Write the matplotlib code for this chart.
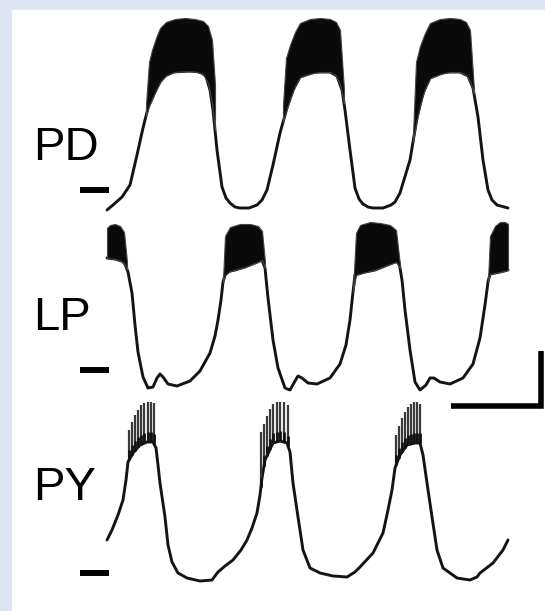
import numpy as np
import matplotlib
matplotlib.use("Agg")
import matplotlib.pyplot as plt
from matplotlib.patches import Rectangle

# Slow-wave membrane potential of each cell (time in ms, voltage in mV)
pd_t = [0, 60, 150, 230, 300, 360, 410, 480, 530, 580, 660, 830, 930, 990, 1030, 1060,
        1100, 1150, 1190, 1230, 1280, 1330, 1420, 1500, 1550, 1600, 1660, 1730, 1800,
        1860, 1930, 2080, 2230, 2300, 2350, 2380, 2430, 2480, 2520, 2560, 2610, 2660,
        2760, 2840, 2880, 2930, 3030, 3100, 3160, 3230, 3380, 3530, 3610, 3660, 3710,
        3760, 3810, 3850, 3900, 4010]
pd_v = [-64.0, -63.0, -61.4, -59.0, -53.0, -47.6, -43.6, -40.4, -38.4, -37.2, -36.4,
        -36.2, -36.4, -37.2, -40.0, -44.0, -52.0, -59.4, -61.6, -62.6, -63.4, -63.6,
        -63.6, -63.0, -62.0, -60.0, -55.0, -48.6, -43.6, -40.0, -37.4, -36.4, -36.4,
        -37.2, -40.0, -44.0, -52.0, -59.6, -61.8, -62.8, -63.4, -63.6, -63.6, -63.0,
        -62.4, -60.6, -54.0, -45.6, -40.6, -37.6, -36.4, -36.4, -37.2, -39.6, -45.4,
        -54.0, -60.0, -62.0, -63.0, -63.6]

lp_t = [0, 80, 150, 180, 210, 250, 280, 310, 360, 410, 460, 500, 530, 560, 610, 700,
        830, 930, 1030, 1080, 1110, 1140, 1160, 1190, 1280, 1380, 1480, 1550, 1580,
        1610, 1660, 1710, 1780, 1830, 1880, 1910, 1950, 2010, 2100, 2230, 2330, 2390,
        2430, 2460, 2480, 2580, 2680, 2780, 2880, 2920, 2950, 2980, 3030, 3080, 3130,
        3190, 3230, 3270, 3330, 3430, 3560, 3660, 3730, 3780, 3810, 3830, 3930, 4010]
lp_v = [-37.6, -37.8, -38.2, -38.8, -40.4, -44.6, -51.0, -56.4, -61.4, -63.6,
        -63.4, -61.6, -60.8, -61.4, -62.8, -63.2, -62.2, -60.2, -56.6, -53.2,
        -50.0, -46.0, -42.4, -40.4, -40.0, -39.4, -38.6, -38.0, -39.6, -45.6,
        -54.0, -59.6, -63.6, -64.0, -62.2, -61.2, -61.6, -62.6, -62.8, -61.6,
        -58.8, -55.0, -50.0, -44.4, -41.0, -40.4, -40.0, -39.2, -38.4, -38.4,
        -42.0, -48.0, -56.0, -62.4, -64.0, -63.0, -61.6, -61.6, -62.4, -62.8,
        -61.6, -58.8, -53.6, -47.0, -42.4, -40.8, -40.4, -40.0]

py_t = [0, 50, 110, 160, 190, 210, 260, 330, 400, 460, 490, 510, 530, 580, 610, 650,
        710, 800, 930, 1050, 1110, 1180, 1260, 1340, 1400, 1450, 1500, 1530, 1550,
        1580, 1660, 1730, 1800, 1830, 1860, 1910, 1960, 2030, 2130, 2260, 2400, 2480,
        2530, 2660, 2760, 2810, 2850, 2880, 2930, 3000, 3080, 3130, 3160, 3200, 3250,
        3300, 3360, 3500, 3630, 3700, 3730, 3860, 3960, 4010]
py_v = [-53.4, -51.4, -48.4, -45.4, -41.4, -37.8, -36.0, -34.4, -33.8, -33.8, -35.0,
        -38.4, -42.0, -48.8, -54.4, -57.8, -60.0, -61.0, -61.6, -61.4, -59.8, -58.6,
        -57.4, -55.4, -53.4, -51.0, -48.0, -44.4, -41.0, -37.4, -34.0, -33.6, -34.0,
        -35.8, -42.0, -48.8, -55.4, -59.0, -60.0, -60.6, -60.8, -59.8, -58.8, -56.0,
        -52.0, -47.4, -43.4, -39.0, -36.4, -34.4, -34.0, -34.0, -36.4, -42.0, -48.8,
        -55.4, -59.0, -61.0, -61.4, -60.8, -60.0, -58.0, -55.4, -53.4]

# Spike-peak envelope of each burst (PD and LP fire dense bursts)
pd_burst_t = [[390, 420, 450, 490, 530, 590, 680, 780, 880, 960, 1010, 1050, 1080],
              [1760, 1790, 1830, 1880, 1930, 2030, 2130, 2230, 2290, 2330, 2370],
              [3060, 3090, 3130, 3180, 3230, 3330, 3430, 3530, 3590, 3630, 3670]]
pd_burst_peak = [[-43.0, -34.4, -32.0, -29.6, -27.6, -26.4, -25.8, -25.6, -25.8, -26.2, -27.2, -30.0, -39.0],
                 [-43.0, -33.6, -31.0, -28.4, -26.6, -25.8, -25.6, -25.8, -26.4, -28.0, -40.0],
                 [-49.0, -34.4, -31.2, -28.6, -26.6, -25.8, -25.6, -25.8, -26.4, -28.0, -40.0]]

lp_burst_t = [[0, 30, 80, 130, 170, 200],
              [1160, 1180, 1230, 1330, 1430, 1510, 1550, 1580],
              [2460, 2490, 2530, 2630, 2730, 2830, 2890, 2930],
              [3810, 3830, 3880, 3930, 3980, 4010]]
lp_burst_peak = [[-31.6, -31.0, -30.8, -31.2, -32.4, -38.4],
                 [-42.0, -33.2, -31.4, -30.8, -30.8, -31.2, -32.2, -38.4],
                 [-44.0, -32.6, -31.0, -30.4, -30.6, -31.0, -32.0, -39.0],
                 [-42.0, -33.2, -31.2, -30.4, -30.4, -30.8]]

# PY fires a few separate spikes per burst
py_spike_t = [[220, 250, 280, 310, 340, 370, 410, 440, 470],
              [1540, 1570, 1600, 1630, 1660, 1700, 1730, 1770, 1810],
              [2890, 2920, 2950, 2980, 3010, 3040, 3070, 3100, 3130]]
py_spike_peak = [[-31.4, -29.8, -28.4, -27.4, -26.4, -26.0, -25.8, -25.8, -26.0],
                 [-31.8, -30.2, -28.6, -27.2, -26.2, -25.8, -25.8, -25.8, -26.4],
                 [-32.4, -30.6, -29.0, -27.8, -26.8, -26.2, -25.8, -25.8, -26.2]]

cell_names = ["PD", "LP", "PY"]
ref_mV = -60.0        # level marked by the short bar left of each trace
scale_ms = 900
scale_mV = 11

# vertical placement of the three traces on the shared axes
offsets = [144.2, 108.2, 67.6]
label_v = [-54.0, -52.0, -45.4]

ink = "#141414"

fig = plt.figure(figsize=(5.45, 6.11), dpi=100, facecolor="#dde5f2")
fig.patches.append(Rectangle((12 / 545, 0), 1, 601 / 611, transform=fig.transFigure,
                             facecolor="white", edgecolor="none", zorder=-10))

ax = fig.add_axes([0, 0, 1, 1])
ax.set_xlim(-1070, 4380)
ax.set_ylim(0, 122.2)
ax.axis("off")
ax.patch.set_alpha(0)

traces = [(pd_t, pd_v), (lp_t, lp_v), (py_t, py_v)]

for i, (t, v) in enumerate(traces):
    off = offsets[i]
    t = np.array(t)
    v = np.array(v) + off
    ax.plot(t, v, color=ink, lw=2.1, solid_capstyle="round",
            solid_joinstyle="round", zorder=3)

    # reference bar and cell name
    ax.plot([-270, 20], [ref_mV + off, ref_mV + off], color="black", lw=4.3,
            solid_capstyle="butt")
    ax.text(-740, label_v[i] + off, cell_names[i], fontsize=34,
            family=["Liberation Sans", "DejaVu Sans"], va="baseline", ha="left")

# dense bursts drawn as a filled band from slow wave up to spike peaks
for bursts_t, bursts_p, (t, v), off in [(pd_burst_t, pd_burst_peak, traces[0], offsets[0]),
                                         (lp_burst_t, lp_burst_peak, traces[1], offsets[1])]:
    for bt, bp in zip(bursts_t, bursts_p):
        bt = np.array(bt, dtype=float)
        base = np.interp(bt, t, v)
        ax.fill_between(bt, base + off, np.array(bp) + off, color="#0a0a0a",
                        lw=0.8, edgecolor="#444444", zorder=4)

# PY spikes as individual strokes, darker near the slow wave
t, v = traces[2]
for st, sp in zip(py_spike_t, py_spike_peak):
    st = np.array(st, dtype=float)
    base = np.interp(st, t, v) + offsets[2]
    ax.vlines(st, base, np.array(sp) + offsets[2], color="#3a3a3a", lw=1.6, zorder=4)
    ax.vlines(st, base, base + 2.0, color="#111111", lw=2.0, zorder=4)

# scale bar: time and voltage
sx = 4340
sy = -67.2 + offsets[1]
ax.plot([sx - scale_ms, sx, sx], [sy, sy, sy + scale_mV], color="black", lw=4.0,
        solid_joinstyle="miter", solid_capstyle="butt")

fig.savefig("out.png", dpi=100, facecolor=fig.get_facecolor())
